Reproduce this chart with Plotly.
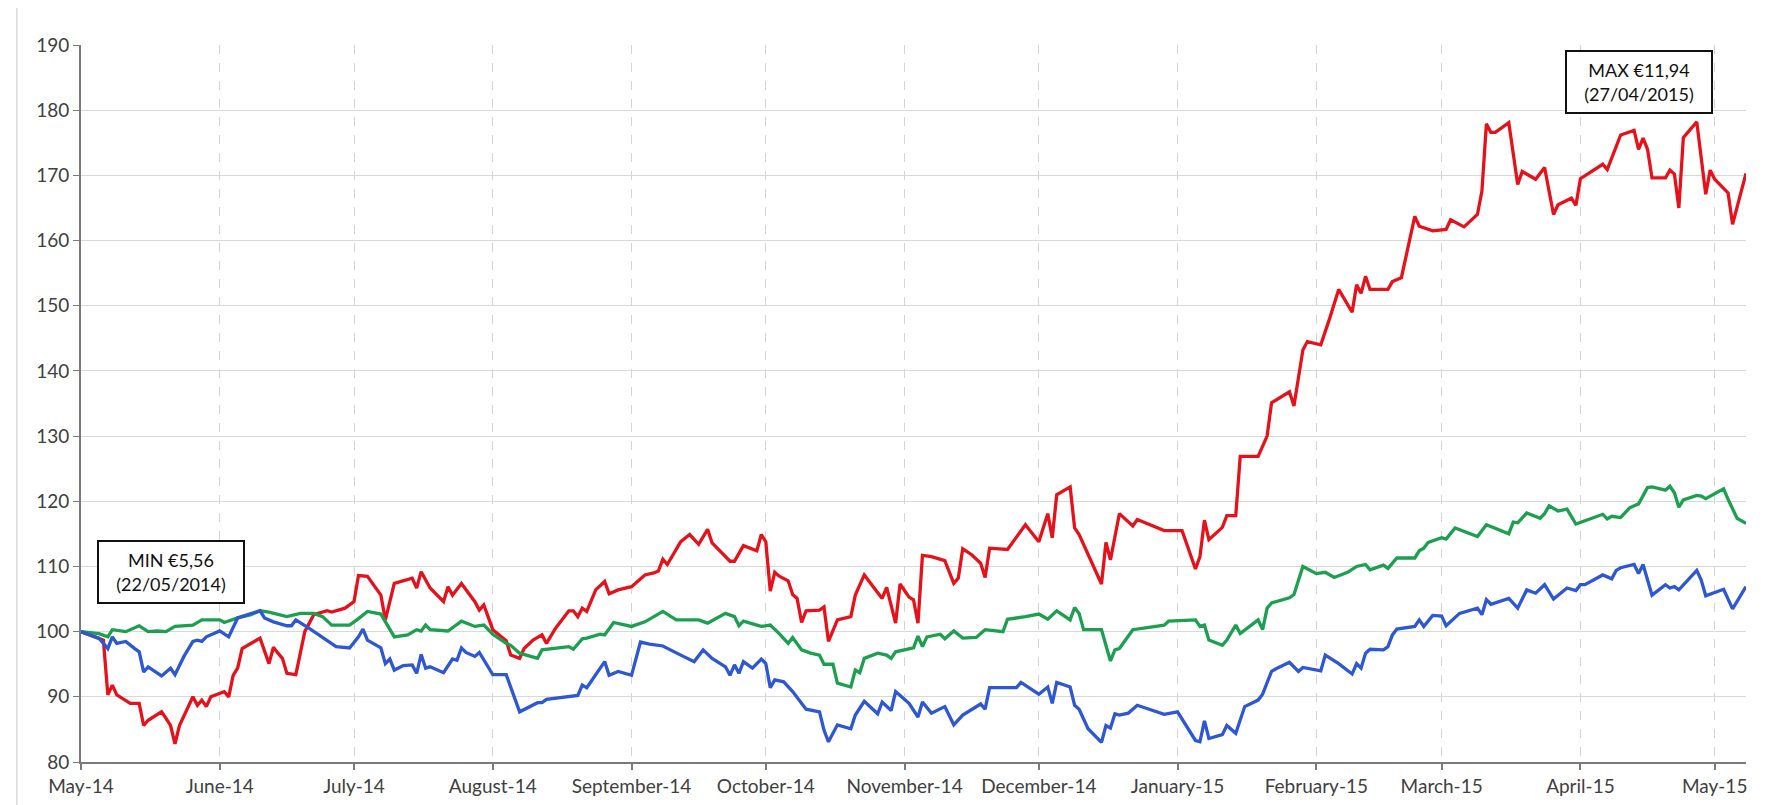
import plotly.graph_objects as go

# rebased prices (start = 100)
red_dates = ["2014-05-01", "2014-05-06", "2014-05-07", "2014-05-08", "2014-05-09", "2014-05-12", "2014-05-14",
             "2014-05-15", "2014-05-16", "2014-05-19", "2014-05-20", "2014-05-21", "2014-05-22", "2014-05-23",
             "2014-05-26", "2014-05-27", "2014-05-28", "2014-05-29", "2014-05-30", "2014-06-02", "2014-06-03",
             "2014-06-04", "2014-06-05", "2014-06-06", "2014-06-09", "2014-06-10", "2014-06-12", "2014-06-13",
             "2014-06-14", "2014-06-15", "2014-06-16", "2014-06-18", "2014-06-20", "2014-06-22", "2014-06-25",
             "2014-06-26", "2014-06-29", "2014-07-01", "2014-07-02", "2014-07-04", "2014-07-07", "2014-07-08",
             "2014-07-10", "2014-07-14", "2014-07-15", "2014-07-16", "2014-07-18", "2014-07-21", "2014-07-22",
             "2014-07-23", "2014-07-25", "2014-07-28", "2014-07-29", "2014-07-30", "2014-08-01", "2014-08-03",
             "2014-08-04", "2014-08-05", "2014-08-07", "2014-08-08", "2014-08-10", "2014-08-12", "2014-08-13",
             "2014-08-15", "2014-08-18", "2014-08-19", "2014-08-20", "2014-08-21", "2014-08-22", "2014-08-24",
             "2014-08-26", "2014-08-27", "2014-08-29", "2014-09-01", "2014-09-04", "2014-09-06", "2014-09-07",
             "2014-09-08", "2014-09-09", "2014-09-12", "2014-09-14", "2014-09-16", "2014-09-18", "2014-09-19",
             "2014-09-23", "2014-09-24", "2014-09-26", "2014-09-29", "2014-09-30", "2014-10-01", "2014-10-02",
             "2014-10-03", "2014-10-04", "2014-10-06", "2014-10-07", "2014-10-08", "2014-10-09", "2014-10-10",
             "2014-10-13", "2014-10-14", "2014-10-15", "2014-10-17", "2014-10-20", "2014-10-21", "2014-10-23",
             "2014-10-27", "2014-10-28", "2014-10-30", "2014-10-31", "2014-11-02", "2014-11-03", "2014-11-04",
             "2014-11-05", "2014-11-07", "2014-11-10", "2014-11-12", "2014-11-13", "2014-11-14", "2014-11-16",
             "2014-11-18", "2014-11-19", "2014-11-20", "2014-11-24", "2014-11-28", "2014-12-01", "2014-12-03",
             "2014-12-04", "2014-12-05", "2014-12-08", "2014-12-09", "2014-12-10", "2014-12-15", "2014-12-16",
             "2014-12-17", "2014-12-19", "2014-12-22", "2014-12-23", "2014-12-29", "2015-01-02", "2015-01-05",
             "2015-01-06", "2015-01-07", "2015-01-08", "2015-01-11", "2015-01-12", "2015-01-14", "2015-01-15",
             "2015-01-19", "2015-01-21", "2015-01-22", "2015-01-26", "2015-01-27", "2015-01-29", "2015-01-30",
             "2015-02-02", "2015-02-04", "2015-02-06", "2015-02-09", "2015-02-10", "2015-02-11", "2015-02-12",
             "2015-02-13", "2015-02-17", "2015-02-18", "2015-02-20", "2015-02-23", "2015-02-24", "2015-02-27",
             "2015-03-02", "2015-03-03", "2015-03-06", "2015-03-09", "2015-03-10", "2015-03-11", "2015-03-12",
             "2015-03-13", "2015-03-16", "2015-03-18", "2015-03-19", "2015-03-22", "2015-03-24", "2015-03-26",
             "2015-03-27", "2015-03-30", "2015-03-31", "2015-04-01", "2015-04-06", "2015-04-07", "2015-04-09",
             "2015-04-10", "2015-04-13", "2015-04-14", "2015-04-15", "2015-04-16", "2015-04-17", "2015-04-20",
             "2015-04-21", "2015-04-22", "2015-04-23", "2015-04-24", "2015-04-27", "2015-04-29", "2015-04-30",
             "2015-05-01", "2015-05-04", "2015-05-05", "2015-05-08"]
red_values = [100, 98.7, 90.3, 91.8, 90.3, 89.0, 89.0,
              85.6, 86.4, 87.7, 86.7, 85.6, 82.8, 85.6,
              90.0, 88.7, 89.5, 88.5, 90.0, 90.8, 90.0,
              93.3, 94.4, 97.4, 98.6, 99.0, 95.1, 97.6,
              96.7, 95.9, 93.6, 93.4, 100.0, 102.6, 103.2,
              103.0, 103.6, 104.6, 108.6, 108.5, 105.6, 101.8,
              107.4, 108.2, 106.7, 109.2, 106.7, 104.6, 106.9,
              105.6, 107.4, 104.6, 103.3, 104.1, 100.3, 99.2,
              98.6, 96.4, 95.9, 97.4, 98.7, 99.5, 98.2,
              100.5, 103.2, 103.2, 102.3, 103.6, 103.1, 106.4,
              107.7, 105.8, 106.4, 106.9, 108.7, 109.0, 109.3,
              111.1, 110.3, 113.8, 114.9, 113.4, 115.7, 113.6,
              110.8, 110.8, 113.2, 112.4, 114.9, 113.8, 106.2,
              109.1, 108.5, 107.8, 105.7, 105.1, 101.4, 103.2,
              103.3, 103.8, 98.5, 101.8, 102.3, 105.6, 108.7,
              105.1, 106.8, 101.3, 107.3, 105.3, 104.9, 101.3,
              111.7, 111.5, 110.9, 107.4, 108.2, 112.7, 111.8,
              110.5, 108.3, 112.8, 112.6, 116.4, 113.8, 118.1,
              114.4, 121.0, 122.2, 115.9, 114.9, 107.3, 113.7,
              111.0, 118.1, 116.2, 117.2, 115.5, 115.5, 109.6,
              111.5, 117.1, 114.1, 116.0, 117.8, 117.8, 126.9,
              126.9, 130.0, 135.1, 136.8, 134.6, 143.2, 144.5,
              144.0, 148.1, 152.5, 149.0, 153.2, 151.9, 154.5,
              152.5, 152.5, 153.7, 154.3, 163.7, 162.2, 161.5,
              161.7, 163.2, 162.1, 164.0, 167.6, 177.9, 176.6,
              176.6, 178.1, 168.6, 170.6, 169.4, 171.2, 164.0,
              165.5, 166.5, 165.4, 169.5, 171.7, 170.9, 174.5,
              176.2, 176.9, 174.0, 175.7, 174.0, 169.6, 169.6,
              170.8, 170.2, 165.0, 175.8, 178.2, 167.1, 170.8,
              169.4, 167.3, 162.5, 170.3]

green_dates = ["2014-05-01", "2014-05-05", "2014-05-07", "2014-05-08", "2014-05-11", "2014-05-14", "2014-05-16",
               "2014-05-18", "2014-05-20", "2014-05-22", "2014-05-26", "2014-05-28", "2014-06-01", "2014-06-02",
               "2014-06-05", "2014-06-08", "2014-06-10", "2014-06-12", "2014-06-16", "2014-06-19", "2014-06-22",
               "2014-06-24", "2014-06-26", "2014-06-30", "2014-07-02", "2014-07-04", "2014-07-07", "2014-07-09",
               "2014-07-10", "2014-07-13", "2014-07-15", "2014-07-16", "2014-07-17", "2014-07-18", "2014-07-22",
               "2014-07-25", "2014-07-28", "2014-07-30", "2014-08-01", "2014-08-04", "2014-08-05", "2014-08-07",
               "2014-08-11", "2014-08-12", "2014-08-15", "2014-08-18", "2014-08-19", "2014-08-21", "2014-08-22",
               "2014-08-25", "2014-08-26", "2014-08-28", "2014-09-01", "2014-09-04", "2014-09-08", "2014-09-11",
               "2014-09-16", "2014-09-18", "2014-09-22", "2014-09-24", "2014-09-25", "2014-09-26", "2014-09-29",
               "2014-09-30", "2014-10-02", "2014-10-04", "2014-10-06", "2014-10-07", "2014-10-09", "2014-10-11",
               "2014-10-13", "2014-10-14", "2014-10-16", "2014-10-17", "2014-10-20", "2014-10-21", "2014-10-22",
               "2014-10-23", "2014-10-26", "2014-10-28", "2014-10-29", "2014-10-30", "2014-11-03", "2014-11-04",
               "2014-11-05", "2014-11-06", "2014-11-09", "2014-11-10", "2014-11-12", "2014-11-14", "2014-11-17",
               "2014-11-19", "2014-11-23", "2014-11-24", "2014-11-28", "2014-12-01", "2014-12-03", "2014-12-05",
               "2014-12-08", "2014-12-09", "2014-12-10", "2014-12-11", "2014-12-15", "2014-12-17", "2014-12-18",
               "2014-12-19", "2014-12-22", "2014-12-25", "2014-12-29", "2014-12-30", "2015-01-05", "2015-01-06",
               "2015-01-07", "2015-01-08", "2015-01-11", "2015-01-12", "2015-01-14", "2015-01-15", "2015-01-19",
               "2015-01-20", "2015-01-21", "2015-01-22", "2015-01-26", "2015-01-27", "2015-01-29", "2015-02-01",
               "2015-02-03", "2015-02-05", "2015-02-08", "2015-02-10", "2015-02-12", "2015-02-13", "2015-02-16",
               "2015-02-17", "2015-02-19", "2015-02-23", "2015-02-24", "2015-02-25", "2015-02-26", "2015-03-01",
               "2015-03-02", "2015-03-04", "2015-03-09", "2015-03-11", "2015-03-16", "2015-03-17", "2015-03-18",
               "2015-03-20", "2015-03-23", "2015-03-24", "2015-03-25", "2015-03-27", "2015-03-29", "2015-03-31",
               "2015-04-06", "2015-04-07", "2015-04-08", "2015-04-10", "2015-04-12", "2015-04-14", "2015-04-16",
               "2015-04-17", "2015-04-20", "2015-04-21", "2015-04-22", "2015-04-23", "2015-04-24", "2015-04-27",
               "2015-04-28", "2015-04-29", "2015-05-03", "2015-05-04", "2015-05-06", "2015-05-08"]
green_values = [100, 99.7, 99.2, 100.3, 100.0, 100.9, 100.0,
                100.1, 100.0, 100.8, 101.0, 101.8, 101.8, 101.4,
                102.1, 102.6, 103.2, 103.0, 102.3, 102.8, 102.8,
                102.3, 101.0, 101.0, 102.0, 103.1, 102.7, 100.5,
                99.2, 99.5, 100.3, 100.1, 101.0, 100.3, 100.1,
                101.6, 100.8, 101.0, 99.6, 98.2, 97.9, 96.7,
                95.9, 97.2, 97.5, 97.7, 97.3, 98.9, 99.0,
                99.6, 99.5, 101.4, 100.8, 101.5, 103.1, 101.8,
                101.8, 101.3, 102.8, 102.3, 100.9, 101.6, 101.0,
                100.8, 101.0, 99.7, 98.2, 99.1, 97.2, 96.7,
                96.4, 95.0, 95.0, 92.1, 91.5, 94.1, 93.7,
                95.9, 96.7, 96.4, 95.9, 96.9, 97.5, 99.3,
                97.7, 99.2, 99.6, 98.9, 100.1, 99.0, 99.1,
                100.3, 100.0, 101.9, 102.3, 102.7, 101.9, 103.2,
                101.8, 103.7, 102.8, 100.3, 100.3, 95.5, 97.2,
                97.4, 100.3, 100.6, 101.0, 101.6, 101.8, 100.8,
                101.0, 98.7, 97.9, 98.7, 101.0, 99.7, 101.8,
                100.3, 103.6, 104.4, 105.2, 105.7, 110.0, 108.9,
                109.1, 108.3, 109.1, 110.0, 110.3, 109.5, 110.2,
                109.7, 111.3, 111.3, 112.4, 112.8, 113.7, 114.4,
                114.2, 115.9, 114.6, 116.4, 115.0, 116.8, 116.7,
                118.2, 117.4, 118.1, 119.3, 118.5, 118.8, 116.5,
                118.0, 117.3, 117.7, 117.5, 119.0, 119.6, 122.1,
                122.2, 121.7, 122.3, 121.3, 119.1, 120.2, 120.9,
                120.8, 120.4, 121.9, 120.3, 117.4, 116.6]

blue_dates = ["2014-05-01", "2014-05-05", "2014-05-07", "2014-05-08", "2014-05-09", "2014-05-11", "2014-05-13",
              "2014-05-14", "2014-05-15", "2014-05-16", "2014-05-19", "2014-05-21", "2014-05-22", "2014-05-24",
              "2014-05-26", "2014-05-27", "2014-05-28", "2014-05-29", "2014-06-01", "2014-06-02", "2014-06-03",
              "2014-06-05", "2014-06-08", "2014-06-10", "2014-06-11", "2014-06-13", "2014-06-16", "2014-06-17",
              "2014-06-18", "2014-06-21", "2014-06-27", "2014-06-30", "2014-07-02", "2014-07-03", "2014-07-04",
              "2014-07-07", "2014-07-08", "2014-07-09", "2014-07-10", "2014-07-12", "2014-07-14", "2014-07-15",
              "2014-07-16", "2014-07-17", "2014-07-18", "2014-07-21", "2014-07-23", "2014-07-24", "2014-07-25",
              "2014-07-26", "2014-07-28", "2014-07-29", "2014-08-01", "2014-08-04", "2014-08-07", "2014-08-11",
              "2014-08-12", "2014-08-13", "2014-08-20", "2014-08-21", "2014-08-22", "2014-08-24", "2014-08-26",
              "2014-08-27", "2014-08-29", "2014-09-01", "2014-09-03", "2014-09-05", "2014-09-08", "2014-09-12",
              "2014-09-15", "2014-09-17", "2014-09-19", "2014-09-22", "2014-09-23", "2014-09-24", "2014-09-25",
              "2014-09-26", "2014-09-28", "2014-09-30", "2014-10-01", "2014-10-02", "2014-10-03", "2014-10-05",
              "2014-10-07", "2014-10-10", "2014-10-13", "2014-10-14", "2014-10-15", "2014-10-17", "2014-10-20",
              "2014-10-21", "2014-10-23", "2014-10-26", "2014-10-27", "2014-10-29", "2014-10-30", "2014-11-02",
              "2014-11-04", "2014-11-05", "2014-11-07", "2014-11-10", "2014-11-12", "2014-11-14", "2014-11-18",
              "2014-11-19", "2014-11-20", "2014-11-24", "2014-11-26", "2014-11-27", "2014-12-01", "2014-12-03",
              "2014-12-04", "2014-12-05", "2014-12-08", "2014-12-09", "2014-12-10", "2014-12-12", "2014-12-15",
              "2014-12-16", "2014-12-17", "2014-12-18", "2014-12-19", "2014-12-21", "2014-12-23", "2014-12-29",
              "2015-01-01", "2015-01-05", "2015-01-06", "2015-01-07", "2015-01-08", "2015-01-11", "2015-01-12",
              "2015-01-14", "2015-01-16", "2015-01-19", "2015-01-20", "2015-01-22", "2015-01-23", "2015-01-26",
              "2015-01-28", "2015-01-29", "2015-02-02", "2015-02-03", "2015-02-06", "2015-02-09", "2015-02-10",
              "2015-02-11", "2015-02-12", "2015-02-13", "2015-02-16", "2015-02-17", "2015-02-18", "2015-02-19",
              "2015-02-23", "2015-02-24", "2015-02-25", "2015-02-27", "2015-03-01", "2015-03-02", "2015-03-05",
              "2015-03-09", "2015-03-10", "2015-03-11", "2015-03-12", "2015-03-16", "2015-03-18", "2015-03-20",
              "2015-03-22", "2015-03-24", "2015-03-26", "2015-03-29", "2015-03-31", "2015-04-01", "2015-04-02",
              "2015-04-06", "2015-04-08", "2015-04-09", "2015-04-10", "2015-04-13", "2015-04-14", "2015-04-15",
              "2015-04-17", "2015-04-20", "2015-04-21", "2015-04-22", "2015-04-23", "2015-04-27", "2015-04-28",
              "2015-04-29", "2015-05-03", "2015-05-05", "2015-05-06", "2015-05-08"]
blue_values = [100, 99.0, 97.4, 99.2, 98.2, 98.5, 97.4,
               96.9, 93.8, 94.6, 93.2, 94.4, 93.4, 96.2,
               98.5, 98.7, 98.5, 99.2, 100.1, 99.7, 99.2,
               102.1, 102.8, 103.2, 102.1, 101.5, 100.9, 100.9,
               101.8, 100.5, 97.7, 97.5, 99.2, 100.4, 98.7,
               97.5, 95.1, 95.8, 94.1, 94.8, 94.9, 93.6,
               96.5, 94.4, 94.6, 93.7, 95.8, 95.6, 97.5,
               96.8, 96.2, 96.8, 93.4, 93.4, 87.7, 89.1,
               89.1, 89.6, 90.2, 91.8, 91.4, 93.3, 95.4,
               93.3, 93.9, 93.3, 98.4, 98.1, 97.8, 96.4,
               95.4, 97.2, 95.9, 94.6, 93.3, 94.9, 93.6,
               95.4, 94.4, 95.8, 95.1, 91.4, 92.6, 92.3,
               90.8, 88.1, 87.7, 84.9, 83.1, 85.7, 85.1,
               87.2, 89.3, 87.4, 89.2, 87.9, 90.8, 89.0,
               86.9, 89.2, 87.5, 88.5, 85.7, 87.2, 88.9,
               88.1, 91.4, 91.4, 91.4, 92.2, 90.4, 91.5,
               89.0, 92.2, 91.5, 88.7, 88.1, 85.1, 83.0,
               85.6, 85.2, 87.4, 87.2, 87.5, 88.7, 87.3,
               87.7, 83.3, 83.1, 86.3, 83.6, 84.2, 85.6,
               84.4, 88.5, 89.5, 90.4, 93.9, 94.3, 95.3,
               93.9, 94.5, 94.0, 96.4, 95.1, 93.5, 95.1,
               94.4, 96.7, 97.3, 97.2, 97.7, 99.5, 100.4,
               100.8, 101.8, 100.8, 102.5, 102.4, 100.9, 102.8,
               103.6, 102.6, 104.9, 104.2, 105.1, 103.6, 106.4,
               105.9, 107.2, 105.0, 106.7, 106.3, 107.2, 107.2,
               108.7, 108.1, 109.4, 109.8, 110.3, 108.9, 110.3,
               105.6, 107.2, 106.7, 106.9, 106.4, 109.4, 107.9,
               105.5, 106.5, 103.5, 104.6, 106.9]

month_ticks = ["2014-05-01", "2014-06-01", "2014-07-01", "2014-08-01", "2014-09-01", "2014-10-01", "2014-11-01",
               "2014-12-01", "2015-01-01", "2015-02-01", "2015-03-01", "2015-04-01", "2015-05-01"]

min_label = "MIN €5,56<br>(22/05/2014)"
max_label = "MAX €11,94<br>(27/04/2015)"

axis_grey = "#7a7a7a"
text_grey = "#404040"

fig = go.Figure()
fig.add_trace(go.Scatter(x=red_dates, y=red_values, mode="lines",
                         line=dict(color="#e5121b", width=3.3)))
fig.add_trace(go.Scatter(x=green_dates, y=green_values, mode="lines",
                         line=dict(color="#1d9f50", width=3.3)))
fig.add_trace(go.Scatter(x=blue_dates, y=blue_values, mode="lines",
                         line=dict(color="#2d57d3", width=3.3)))

# boxed callouts for the low and the high
for txt, xpos, ypos in [(min_label, "2014-05-21", 109.2), (max_label, "2015-04-14", 184.3)]:
    fig.add_annotation(x=xpos, y=ypos, xref="x", yref="y", text=txt, showarrow=False,
                       font=dict(family="Lato", size=18, color="#111111"),
                       width=140, height=56, bgcolor="white",
                       bordercolor="#111111", borderwidth=2, borderpad=2)

# thin frame line on the far left of the chart area
fig.add_shape(type="line", xref="paper", yref="paper", x0=-0.0385, x1=-0.0385, y0=-0.075, y1=1.055,
              line=dict(color="#c8c8c8", width=1))

fig.update_xaxes(type="date", range=["2014-05-01", "2015-05-08"],
                 tickvals=month_ticks, tickformat="%B-%y",
                 showline=True, linecolor=axis_grey, linewidth=2,
                 ticks="outside", ticklen=6, tickwidth=2, tickcolor=axis_grey,
                 showgrid=True, gridcolor="#d4d4d4", gridwidth=1, griddash="dash",
                 tickfont=dict(family="Lato", size=19, color=text_grey))
fig.update_yaxes(range=[80, 190], dtick=10,
                 showline=True, linecolor=axis_grey, linewidth=2,
                 ticks="outside", ticklen=6, tickwidth=1, tickcolor=axis_grey,
                 showgrid=True, gridcolor="#d9d9d9", gridwidth=1, zeroline=False,
                 tickfont=dict(family="Lato", size=19, color=text_grey))

fig.update_layout(width=1771, height=805, showlegend=False,
                  plot_bgcolor="white", paper_bgcolor="white",
                  margin=dict(l=73, r=33, t=37, b=51))

fig.write_html("out.html")
